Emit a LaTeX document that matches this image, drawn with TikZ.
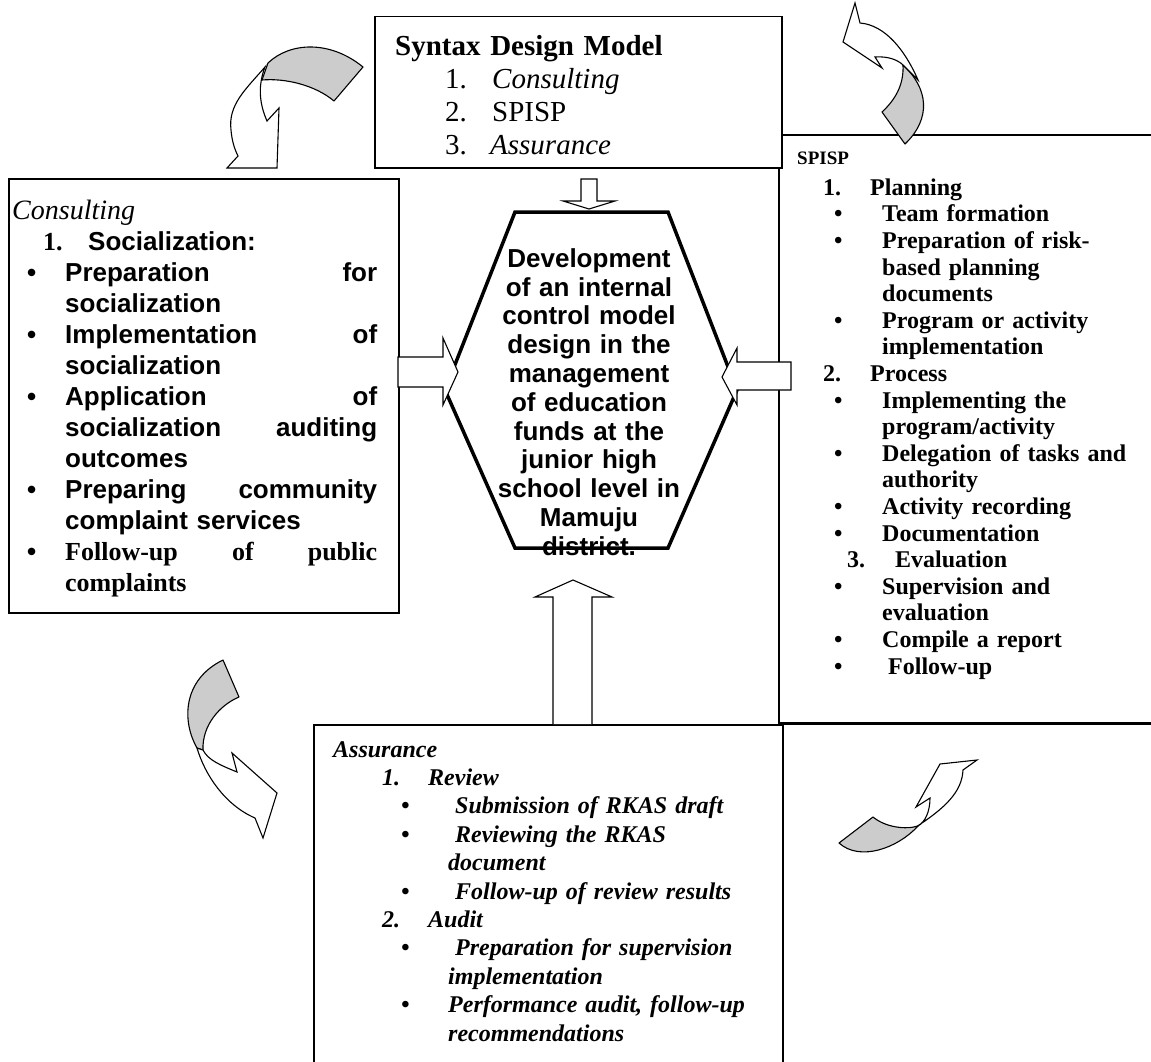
\documentclass[tikz,border=0pt]{standalone}
\usepackage{fontspec}
\setmainfont{Liberation Serif}
\newfontfamily\arialfont{Liberation Sans}
\usepackage{tikz}
\usetikzlibrary{positioning, calc}
\tikzstyle{panel} = [rectangle, draw, line width=1.5pt, fill=white, inner sep=0pt, anchor=north west]
\tikzstyle{txt} = [inner sep=0pt, anchor=north west, align=left]
\tikzstyle{blockarrow} = [draw, line width=1.1pt, fill=white, line join=miter]
\tikzstyle{flap} = [draw, line width=1.1pt, fill=black!20, line join=round]
\tikzstyle{flip} = [draw, line width=1.1pt, fill=white, line join=miter]
\tikzstyle{hexa} = [draw, line width=3.5pt, line join=miter]

\begin{document}
\begin{tikzpicture}[x=1pt, y=-1pt]
    \useasboundingbox (0,0) rectangle (1151,1062);
    \clip (0,0) rectangle (1151,1062);

    % Table lines on the right
    \draw [line width=1.5pt] (1160,135) -- (779,135) -- (779,723) -- (1160,723);
    \node (bottomright) [panel, minimum width=380pt, minimum height=360pt] at (782,723) {};

    % Boxes
    \node (assur) [panel, minimum width=469pt, minimum height=360pt] at (313,724) {};
    \node (syntax) [panel, minimum width=407pt, minimum height=151pt] at (374,16) {};
    \node (cons) [panel, minimum width=390pt, minimum height=434pt] at (8,178) {};

    % Syntax design model
    \node (syntxt) [txt, font=\fontsize{29}{33}\selectfont, text width=380pt] at (395,32) {\strut\textbf{Syntax Design Model}\\
        \hspace*{50pt}\makebox[47pt][l]{1.}\textit{Consulting}\\
        \hspace*{50pt}\makebox[47pt][l]{2.}SPISP\\
        \hspace*{50pt}\makebox[45pt][l]{3.}\textit{Assurance}};

    % Consulting
    \node (constxt) [txt, font=\arialfont\bfseries\fontsize{26}{31}\selectfont, text width=380pt] at (12,198) {\strut{\rmfamily\mdseries\itshape\fontsize{28}{31}\selectfont Consulting}\\
        \hspace*{31pt}\makebox[45pt][l]{\rmfamily 1.}Socialization:\\
        \hspace*{15pt}\makebox[38pt][l]{\textbullet}\hbox to 312pt{Preparation\hfill for}\\
        \hspace*{53pt}socialization\\
        \hspace*{15pt}\makebox[38pt][l]{\textbullet}\hbox to 312pt{Implementation\hfill of}\\
        \hspace*{53pt}socialization\\
        \hspace*{15pt}\makebox[38pt][l]{\textbullet}\hbox to 312pt{Application\hfill of}\\
        \hspace*{53pt}\hbox to 312pt{socialization\hfill auditing}\\
        \hspace*{53pt}outcomes\\
        \hspace*{15pt}\makebox[38pt][l]{\textbullet}\hbox to 312pt{Preparing\hfill community}\\
        \hspace*{53pt}complaint services\\
        \hspace*{15pt}\makebox[38pt][l]{\textbullet}\hbox to 312pt{\rmfamily Follow-up\hfill of\hfill public}\\
        \hspace*{53pt}{\rmfamily complaints}};

    % SPISP
    \node (spisptxt) [txt, font=\bfseries\fontsize{24}{26.6}\selectfont, text width=350pt] at (797,145.4) {\strut{\fontsize{19}{20}\selectfont SPISP}\\[4.4pt]
        \hspace*{26pt}\makebox[47pt][l]{1.}Planning\\
        \hspace*{37pt}\makebox[48pt][l]{\textbullet}Team formation\\
        \hspace*{37pt}\makebox[48pt][l]{\textbullet}Preparation of risk-\\
        \hspace*{85pt}based planning\\
        \hspace*{85pt}documents\\
        \hspace*{37pt}\makebox[48pt][l]{\textbullet}Program or activity\\
        \hspace*{85pt}implementation\\
        \hspace*{26pt}\makebox[47pt][l]{2.}Process\\
        \hspace*{37pt}\makebox[48pt][l]{\textbullet}Implementing the\\
        \hspace*{85pt}program/activity\\
        \hspace*{37pt}\makebox[48pt][l]{\textbullet}Delegation of tasks and\\
        \hspace*{85pt}authority\\
        \hspace*{37pt}\makebox[48pt][l]{\textbullet}Activity recording\\
        \hspace*{37pt}\makebox[48pt][l]{\textbullet}Documentation\\
        \hspace*{50pt}\makebox[48pt][l]{3.}Evaluation\\
        \hspace*{37pt}\makebox[48pt][l]{\textbullet}Supervision and\\
        \hspace*{85pt}evaluation\\
        \hspace*{37pt}\makebox[48pt][l]{\textbullet}Compile a report\\
        \hspace*{37pt}\makebox[54pt][l]{\textbullet}Follow-up};

    % Assurance
    \node (assurtxt) [txt, font=\bfseries\itshape\fontsize{24}{28.4}\selectfont, text width=440pt] at (333,737) {\strut Assurance\\
        \hspace*{49pt}\makebox[46pt][l]{1.}Review\\
        \hspace*{68pt}\makebox[54pt][l]{\textbullet}Submission of RKAS draft\\
        \hspace*{68pt}\makebox[54pt][l]{\textbullet}Reviewing the RKAS\\
        \hspace*{115pt}document\\
        \hspace*{68pt}\makebox[54pt][l]{\textbullet}Follow-up of review results\\
        \hspace*{49pt}\makebox[46pt][l]{2.}Audit\\
        \hspace*{68pt}\makebox[54pt][l]{\textbullet}Preparation for supervision\\
        \hspace*{115pt}implementation\\
        \hspace*{68pt}\makebox[47pt][l]{\textbullet}Performance audit, follow-up\\
        \hspace*{115pt}recommendations};

    % Core hexagon
    \coordinate (hub) at (591,380);
    \draw [hexa] (hub) ++(-76,-168) -- ++(153,0) -- ++(69,178) -- ++(-69,158) -- ++(-153,0) -- ++(-70,-158) -- cycle;
    \node (coretxt) [inner sep=0pt, anchor=north, align=center, text width=220pt, font=\arialfont\bfseries\fontsize{26}{28.8}\selectfont] at (589,247) {\strut Development\\ of an internal\\ control model\\ design in the\\ management\\ of education\\ funds at the\\ junior high\\ school level in\\ Mamuju\\ district.};

    % Block arrows
    \draw [blockarrow] (581,179) -- (597,179) -- (597,201) -- (615,201) -- (589,209) -- (563,201) -- (581,201) -- cycle;
    \draw [blockarrow] (398,357) -- (443,357) -- (443,338) -- (458,372) -- (443,405) -- (443,387) -- (398,387) -- cycle;
    \draw [blockarrow] (791,362) -- (737,362) -- (737,348) -- (722,377) -- (737,405) -- (737,390) -- (791,390) -- cycle;
    \draw [blockarrow] (553,724) -- (553,597) -- (535,597) -- (573,580) -- (612,597) -- (592,597) -- (592,724);

    % Curved arrows
    \draw [flap] (268,63) .. controls (290,42) and (330,40) .. (363,67) -- (334,101) .. controls (315,85) and (285,78) .. (262,80) -- cycle;
    \draw [flip] (265,67) .. controls (245,90) and (228,105) .. (231,130) .. controls (232,142) and (235,150) .. (238,156) -- (227,168) -- (277,168) -- (279,108) -- (267,121) .. controls (259,103) and (258,85) .. (265,67) -- cycle;

    \draw [flap] (903,65) .. controls (928,88) and (932,118) .. (905,144) -- (882,112) .. controls (895,100) and (904,85) .. (903,65) -- cycle;
    \draw [flip] (918,80) .. controls (905,50) and (885,25) .. (860,23) -- (855,3) -- (843,42) -- (882,68) -- (875,57) .. controls (888,56) and (898,60) .. (903,65) -- cycle;

    \draw [flap] (223,660) -- (239,697) .. controls (220,705) and (202,725) .. (203,750) -- (197,748) .. controls (182,722) and (182,680) .. (223,660) -- cycle;
    \draw [flip] (197,748) .. controls (205,775) and (225,805) .. (255,818) -- (263,838) -- (277,793) -- (232,753) -- (237,772) .. controls (220,765) and (208,760) .. (203,750) -- cycle;

    \draw [flap] (839,843) -- (873,817) .. controls (885,827) and (905,830) .. (918,826) .. controls (898,848) and (860,862) .. (839,843) -- cycle;
    \draw [flip] (916,827) .. controls (945,808) and (962,792) .. (963,770) -- (977,760) -- (940,764) -- (916,807) -- (930,798) .. controls (930,812) and (925,822) .. (918,826) -- cycle;
\end{tikzpicture}
\end{document}
